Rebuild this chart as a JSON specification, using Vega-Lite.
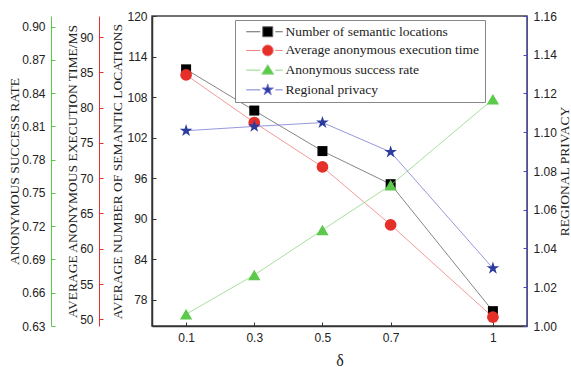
{
  "$schema": "https://vega.github.io/schema/vega-lite/v6.json",
  "width": 375,
  "height": 310,
  "autosize": {"type": "none"},
  "padding": {"left": 152, "top": 16, "right": 44, "bottom": 41},
  "background": "white",
  "data": {
    "values": [
      {"x": 0.1, "series": "Number of semantic locations", "v": 112.1},
      {"x": 0.3, "series": "Number of semantic locations", "v": 106.0},
      {"x": 0.5, "series": "Number of semantic locations", "v": 100.0},
      {"x": 0.7, "series": "Number of semantic locations", "v": 95.1},
      {"x": 1.0, "series": "Number of semantic locations", "v": 76.3},
      {"x": 0.1, "series": "Average anonymous execution time", "v": 84.65},
      {"x": 0.3, "series": "Average anonymous execution time", "v": 77.9},
      {"x": 0.5, "series": "Average anonymous execution time", "v": 71.6},
      {"x": 0.7, "series": "Average anonymous execution time", "v": 63.4},
      {"x": 1.0, "series": "Average anonymous execution time", "v": 50.3},
      {"x": 0.1, "series": "Anonymous success rate", "v": 0.6406},
      {"x": 0.3, "series": "Anonymous success rate", "v": 0.676},
      {"x": 0.5, "series": "Anonymous success rate", "v": 0.7166},
      {"x": 0.7, "series": "Anonymous success rate", "v": 0.757},
      {"x": 1.0, "series": "Anonymous success rate", "v": 0.8345},
      {"x": 0.1, "series": "Regional privacy", "v": 1.1008},
      {"x": 0.3, "series": "Regional privacy", "v": 1.103},
      {"x": 0.5, "series": "Regional privacy", "v": 1.105},
      {"x": 0.7, "series": "Regional privacy", "v": 1.0898},
      {"x": 1.0, "series": "Regional privacy", "v": 1.0298}
    ]
  },
  "encoding": {
    "x": {
      "field": "x",
      "type": "quantitative",
      "scale": {"domain": [0, 1.1], "nice": false, "zero": false},
      "axis": {
        "values": [0.1, 0.3, 0.5, 0.7, 1],
        "format": "~g",
        "title": "δ",
        "titleFont": "Liberation Serif",
        "titleFontSize": 16,
        "titlePadding": 9,
        "tickSize": -4,
        "labelPadding": 10,
        "domainColor": "#333",
        "domainWidth": 1.5,
        "tickColor": "#333"
      }
    }
  },
  "layer": [
    {
      "transform": [{"filter": "datum.series === 'Number of semantic locations'"}],
      "encoding": {
        "y": {
          "field": "v",
          "type": "quantitative",
          "scale": {"domain": [74.1, 120], "nice": false, "zero": false},
          "axis": {
            "orient": "left",
            "values": [78, 84, 90, 96, 102, 108, 114, 120],
            "title": "AVERAGE  NUMBER OF SEMANTIC LOCATIONS",
            "domainColor": "#333",
            "domainWidth": 1.5,
            "tickColor": "#333",
            "tickSize": -4,
            "labelPadding": 9,
            "titlePadding": 2
          }
        }
      },
      "layer": [
        {
          "mark": {"type": "line", "strokeWidth": 0.8},
          "encoding": {
            "color": {
              "field": "series",
              "type": "nominal",
              "scale": {
                "domain": ["Number of semantic locations", "Average anonymous execution time", "Anonymous success rate", "Regional privacy"],
                "range": ["#666666", "#f08080", "#90d884", "#7c7cd4"]
              },
              "legend": {
                "orient": "none",
                "legendX": 83,
                "legendY": 4,
                "title": null,
                "padding": 5,
                "symbolSize": 100,
                "symbolOffset": 21,
                "labelOffset": 11,
                "rowPadding": 3.7,
                "labelFont": "Liberation Serif",
                "labelFontSize": 13.5,
                "labelColor": "#222",
                "labelLimit": 400,
                "strokeColor": "#888888",
                "fillColor": "white",
                "encode": {
                  "symbols": {
                    "update": {
                      "shape": {"signal": "datum.value === 'Number of semantic locations' ? 'M-4.3,0H-1.5M1.5,0H3.0M-1,-1H1V1H-1Z' : datum.value === 'Average anonymous execution time' ? 'M-4.3,0H-1.5M1.5,0H3.0M-1.1,0A1.1,1.1 0 1,0 1.1,0A1.1,1.1 0 1,0 -1.1,0Z' : datum.value === 'Anonymous success rate' ? 'M-4.3,0H-1.5M1.5,0H3.0M0,-1.1L1.2,0.8L-1.2,0.8Z' : 'M-4.3,0H-1.5M1.5,0H3.0M0,-1.2L0.269,-0.371L1.141,-0.371L0.436,0.142L0.706,0.971L0,0.458L-0.706,0.971L-0.436,0.142L-1.141,-0.371L-0.269,-0.371Z'"},
                      "fill": {"signal": "datum.value === 'Number of semantic locations' ? '#000000' : datum.value === 'Average anonymous execution time' ? '#e5302a' : datum.value === 'Anonymous success rate' ? '#5cc84c' : '#2b3c9e'"},
                      "stroke": {"signal": "datum.value === 'Number of semantic locations' ? '#666666' : datum.value === 'Average anonymous execution time' ? '#f08080' : datum.value === 'Anonymous success rate' ? '#90d884' : '#7c7cd4'"},
                      "strokeWidth": {"value": 1},
                      "opacity": {"value": 1},
                      "fillOpacity": {"value": 1}
                    }
                  }
                }
              }
            }
          }
        },
        {"mark": {"type": "point", "shape": "square", "filled": true, "size": 100, "color": "#000000", "opacity": 1}}
      ]
    },
    {
      "transform": [{"filter": "datum.series === 'Average anonymous execution time'"}],
      "encoding": {
        "y": {
          "field": "v",
          "type": "quantitative",
          "scale": {"domain": [49.05, 93.0], "nice": false, "zero": false},
          "axis": {
            "orient": "left",
            "offset": 53,
            "values": [50, 55, 60, 65, 70, 75, 80, 85, 90],
            "title": "AVERAGE ANONYMOUS EXECUTION TIME/MS",
            "domainColor": "#e5302a",
            "tickColor": "#e5302a",
            "tickSize": -4,
            "labelPadding": 10,
            "titlePadding": 0
          }
        }
      },
      "layer": [
        {
          "mark": {"type": "line", "strokeWidth": 0.8},
          "encoding": {
            "color": {
              "field": "series",
              "type": "nominal",
              "scale": {
                "domain": ["Number of semantic locations", "Average anonymous execution time", "Anonymous success rate", "Regional privacy"],
                "range": ["#666666", "#f08080", "#90d884", "#7c7cd4"]
              }
            }
          }
        },
        {"mark": {"type": "point", "shape": "circle", "filled": true, "size": 137, "color": "#e5302a", "opacity": 1}}
      ]
    },
    {
      "transform": [{"filter": "datum.series === 'Anonymous success rate'"}],
      "encoding": {
        "y": {
          "field": "v",
          "type": "quantitative",
          "scale": {"domain": [0.63, 0.9096], "nice": false, "zero": false},
          "axis": {
            "orient": "left",
            "offset": 101,
            "values": [0.63, 0.66, 0.69, 0.72, 0.75, 0.78, 0.81, 0.84, 0.87, 0.9],
            "format": ".2f",
            "title": "ANONYMOUS SUCCESS RATE",
            "domainColor": "#5cc84c",
            "tickColor": "#5cc84c",
            "tickSize": -4,
            "labelPadding": 10,
            "titlePadding": 0
          }
        }
      },
      "layer": [
        {
          "mark": {"type": "line", "strokeWidth": 0.8},
          "encoding": {
            "color": {
              "field": "series",
              "type": "nominal",
              "scale": {
                "domain": ["Number of semantic locations", "Average anonymous execution time", "Anonymous success rate", "Regional privacy"],
                "range": ["#666666", "#f08080", "#90d884", "#7c7cd4"]
              }
            }
          }
        },
        {"mark": {"type": "point", "shape": "triangle-up", "filled": true, "size": 151, "color": "#5cc84c", "opacity": 1}}
      ]
    },
    {
      "transform": [{"filter": "datum.series === 'Regional privacy'"}],
      "encoding": {
        "y": {
          "field": "v",
          "type": "quantitative",
          "scale": {"domain": [1.0, 1.16], "nice": false, "zero": false},
          "axis": {
            "orient": "right",
            "values": [1.0, 1.02, 1.04, 1.06, 1.08, 1.1, 1.12, 1.14, 1.16],
            "format": ".2f",
            "title": "REGIONAL PRIVACY",
            "titleAngle": 270,
            "titleBaseline": "top",
            "domainColor": "#4a4ab8",
            "tickColor": "#4a4ab8",
            "tickSize": -4,
            "labelPadding": 10,
            "titlePadding": 1
          }
        }
      },
      "layer": [
        {
          "mark": {"type": "line", "strokeWidth": 0.8},
          "encoding": {
            "color": {
              "field": "series",
              "type": "nominal",
              "scale": {
                "domain": ["Number of semantic locations", "Average anonymous execution time", "Anonymous success rate", "Regional privacy"],
                "range": ["#666666", "#f08080", "#90d884", "#7c7cd4"]
              }
            }
          }
        },
        {"mark": {"type": "point", "shape": "M0,-1L0.2245,-0.309L0.951,-0.309L0.363,0.118L0.588,0.809L0,0.382L-0.588,0.809L-0.363,0.118L-0.951,-0.309L-0.2245,-0.309Z", "filled": true, "size": 178, "color": "#2b3c9e", "opacity": 1}}
      ]
    }
  ],
  "resolve": {"scale": {"y": "independent"}, "axis": {"y": "independent"}},
  "config": {
    "view": {"stroke": "#444444", "strokeWidth": 1.5},
    "axis": {
      "grid": false,
      "labelFont": "Liberation Sans",
      "labelFontSize": 12,
      "labelColor": "#222222",
      "titleFont": "Liberation Serif",
      "titleFontSize": 13.5,
      "titleFontWeight": "normal",
      "titleColor": "#222222"
    }
  }
}
